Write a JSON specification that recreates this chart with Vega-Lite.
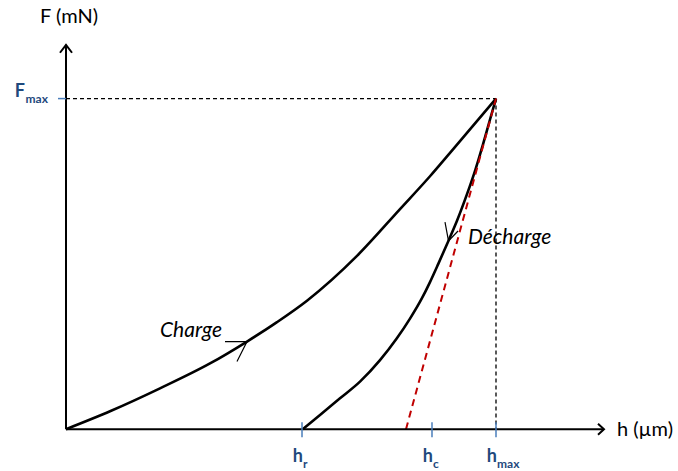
{
  "$schema": "https://vega.github.io/schema/vega-lite/v6.json",
  "width": 678,
  "height": 471,
  "autosize": {"type": "fit", "contains": "padding"},
  "padding": 0,
  "background": "white",
  "config": {"view": {"stroke": null}, "font": "Lato"},
  "datasets": {
    "lines": [
      {"s": "charge", "i": 0, "h": 0, "F": 0},
      {"s": "charge", "i": 1, "h": 0.2047, "F": 0.542},
      {"s": "charge", "i": 2, "h": 0.4372, "F": 1.235},
      {"s": "charge", "i": 3, "h": 0.6698, "F": 1.988},
      {"s": "charge", "i": 4, "h": 0.8419, "F": 2.651},
      {"s": "charge", "i": 5, "h": 0.9814, "F": 3.238},
      {"s": "charge", "i": 6, "h": 1.1209, "F": 3.886},
      {"s": "charge", "i": 7, "h": 1.3535, "F": 5.241},
      {"s": "charge", "i": 8, "h": 1.5535, "F": 6.657},
      {"s": "charge", "i": 9, "h": 1.693, "F": 7.651},
      {"s": "charge", "i": 10, "h": 1.8, "F": 8.464},
      {"s": "charge", "i": 11, "h": 2.0, "F": 10.0},
      {"s": "decharge", "i": 0, "h": 1.1009, "F": 0},
      {"s": "decharge", "i": 1, "h": 1.1814, "F": 0.431},
      {"s": "decharge", "i": 2, "h": 1.2744, "F": 0.934},
      {"s": "decharge", "i": 3, "h": 1.3674, "F": 1.437},
      {"s": "decharge", "i": 4, "h": 1.4605, "F": 2.087},
      {"s": "decharge", "i": 5, "h": 1.5381, "F": 2.741},
      {"s": "decharge", "i": 6, "h": 1.6, "F": 3.343},
      {"s": "decharge", "i": 7, "h": 1.6544, "F": 3.946},
      {"s": "decharge", "i": 8, "h": 1.693, "F": 4.449},
      {"s": "decharge", "i": 9, "h": 1.7316, "F": 5.0},
      {"s": "decharge", "i": 10, "h": 1.7791, "F": 5.702},
      {"s": "decharge", "i": 11, "h": 1.8186, "F": 6.304},
      {"s": "decharge", "i": 12, "h": 1.8651, "F": 7.108},
      {"s": "decharge", "i": 13, "h": 1.9047, "F": 7.861},
      {"s": "decharge", "i": 14, "h": 1.9395, "F": 8.614},
      {"s": "decharge", "i": 15, "h": 1.9721, "F": 9.367},
      {"s": "decharge", "i": 16, "h": 2.0, "F": 10.0},
      {"s": "axisX", "i": 0, "h": 0, "F": 0},
      {"s": "axisX", "i": 1, "h": 2.5023, "F": 0},
      {"s": "axisY", "i": 0, "h": 0, "F": 0},
      {"s": "axisY", "i": 1, "h": 0, "F": 11.627},
      {"s": "arrowX", "i": 0, "h": 2.4744, "F": 0.166},
      {"s": "arrowX", "i": 1, "h": 2.5023, "F": 0},
      {"s": "arrowX", "i": 2, "h": 2.4744, "F": -0.166},
      {"s": "arrowY", "i": 0, "h": -0.028, "F": 11.386},
      {"s": "arrowY", "i": 1, "h": 0, "F": 11.627},
      {"s": "arrowY", "i": 2, "h": 0.028, "F": 11.386},
      {"s": "arrC", "i": 0, "h": 0.7395, "F": 2.651},
      {"s": "arrC", "i": 1, "h": 0.8419, "F": 2.651},
      {"s": "arrC", "i": 2, "h": 0.7953, "F": 2.048},
      {"s": "arrD", "i": 0, "h": 1.7628, "F": 6.265},
      {"s": "arrD", "i": 1, "h": 1.7791, "F": 5.693},
      {"s": "arrD", "i": 2, "h": 1.8233, "F": 5.994},
      {"s": "refH", "i": 0, "h": 0, "F": 10.0},
      {"s": "refH", "i": 1, "h": 2.0, "F": 10.0},
      {"s": "refV", "i": 0, "h": 2.0, "F": 10.0},
      {"s": "refV", "i": 1, "h": 2.0, "F": 0},
      {"s": "tangent", "i": 0, "h": 1.5814, "F": 0},
      {"s": "tangent", "i": 1, "h": 2.0, "F": 10.0},
      {"s": "tickF", "i": 0, "h": -0.0372, "F": 10.0},
      {"s": "tickF", "i": 1, "h": 0, "F": 10.0},
      {"s": "tickHr", "i": 0, "h": 1.0977, "F": 0.211},
      {"s": "tickHr", "i": 1, "h": 1.0977, "F": -0.241},
      {"s": "tickHc", "i": 0, "h": 1.7023, "F": 0.211},
      {"s": "tickHc", "i": 1, "h": 1.7023, "F": -0.241},
      {"s": "tickHm", "i": 0, "h": 2.0, "F": 0.211},
      {"s": "tickHm", "i": 1, "h": 2.0, "F": -0.241}
    ]
  },
  "encoding": {
    "x": {"field": "h", "type": "quantitative", "axis": null, "scale": {"domain": [-0.30698, 2.84651], "nice": false, "zero": false}},
    "y": {"field": "F", "type": "quantitative", "axis": null, "scale": {"domain": [-1.20482, 12.98193], "nice": false, "zero": false}}
  },
  "layer": [
    {
      "data": {"name": "lines"},
      "transform": [{"filter": "datum.s === 'refH' || datum.s === 'refV'"}],
      "mark": {"type": "line", "color": "#000000", "strokeWidth": 1.3, "strokeDash": [4, 3]},
      "encoding": {"detail": {"field": "s"}, "order": {"field": "i"}}
    },
    {
      "data": {"name": "lines"},
      "transform": [{"filter": "datum.s === 'charge' || datum.s === 'decharge'"}],
      "mark": {"type": "line", "color": "#000000", "strokeWidth": 2.6, "interpolate": "monotone"},
      "encoding": {"detail": {"field": "s"}, "order": {"field": "i"}}
    },
    {
      "data": {"name": "lines"},
      "transform": [{"filter": "datum.s === 'tangent'"}],
      "mark": {"type": "line", "color": "#C00000", "strokeWidth": 2, "strokeDash": [7, 5]},
      "encoding": {"detail": {"field": "s"}, "order": {"field": "i"}}
    },
    {
      "data": {"name": "lines"},
      "transform": [{"filter": "datum.s === 'axisX' || datum.s === 'axisY' || datum.s === 'arrowX' || datum.s === 'arrowY'"}],
      "mark": {"type": "line", "color": "#000000", "strokeWidth": 2},
      "encoding": {"detail": {"field": "s"}, "order": {"field": "i"}}
    },
    {
      "data": {"name": "lines"},
      "transform": [{"filter": "datum.s === 'arrC' || datum.s === 'arrD'"}],
      "mark": {"type": "line", "color": "#000000", "strokeWidth": 1.2},
      "encoding": {"detail": {"field": "s"}, "order": {"field": "i"}}
    },
    {
      "data": {"name": "lines"},
      "transform": [{"filter": "indexof(['tickF','tickHr','tickHc','tickHm'], datum.s) >= 0"}],
      "mark": {"type": "line", "color": "#4A7EBB", "strokeWidth": 1.5},
      "encoding": {"detail": {"field": "s"}, "order": {"field": "i"}}
    },
    {
      "data": {"values": [
        {"t": "F (mN)", "h": -0.1209, "F": 12.47},
        {"t": "h (µm)", "h": 2.5628, "F": -0.03}
      ]},
      "mark": {"type": "text", "align": "left", "baseline": "middle", "fontSize": 20, "font": "Lato", "color": "#000000"},
      "encoding": {"text": {"field": "t"}}
    },
    {
      "data": {"values": [
        {"t": "Charge", "h": 0.4372, "F": 2.982},
        {"t": "Décharge", "h": 1.8698, "F": 5.783}
      ]},
      "mark": {"type": "text", "align": "left", "baseline": "middle", "fontSize": 21, "fontStyle": "italic", "font": "Lato", "color": "#000000"},
      "encoding": {"text": {"field": "t"}}
    },
    {
      "data": {"values": [
        {"t": "F", "h": -0.1907, "F": 10.06},
        {"t": "h", "h": 1.1023, "F": -0.994},
        {"t": "h", "h": 1.707, "F": -0.994},
        {"t": "h", "h": 2.0047, "F": -0.994}
      ]},
      "mark": {"type": "text", "align": "right", "baseline": "alphabetic", "fontSize": 18, "fontWeight": "bold", "font": "Lato", "color": "#1F497D"},
      "encoding": {"text": {"field": "t"}}
    },
    {
      "data": {"values": [
        {"t": "max", "h": -0.1884, "F": 9.88},
        {"t": "r", "h": 1.1023, "F": -1.175},
        {"t": "c", "h": 1.707, "F": -1.175},
        {"t": "max", "h": 2.0047, "F": -1.175}
      ]},
      "mark": {"type": "text", "align": "left", "baseline": "alphabetic", "fontSize": 12, "fontWeight": "bold", "font": "Lato", "color": "#1F497D"},
      "encoding": {"text": {"field": "t"}}
    }
  ]
}
